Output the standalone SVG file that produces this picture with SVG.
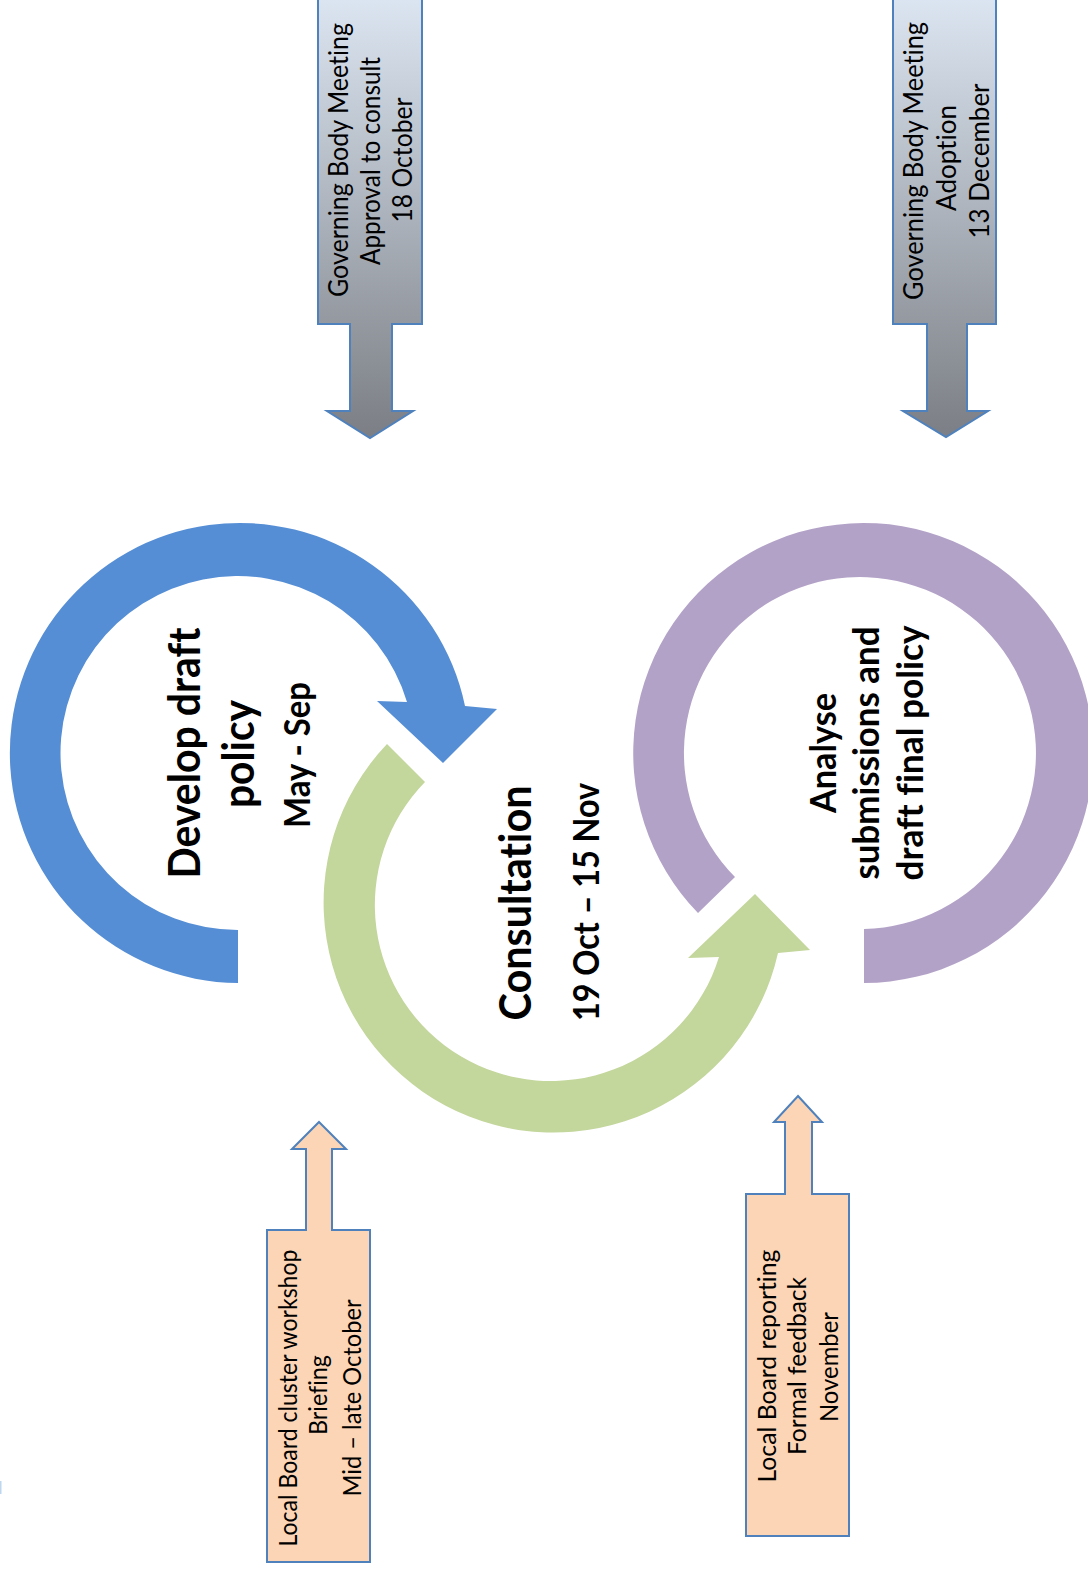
<svg xmlns="http://www.w3.org/2000/svg" width="1088" height="1574" viewBox="0 0 1088 1574">
  <defs>
    <linearGradient id="gbm" x1="0" y1="-5" x2="0" y2="438" gradientUnits="userSpaceOnUse">
      <stop offset="0" stop-color="#DCE6F2"/>
      <stop offset="1" stop-color="#7B7E84"/>
    </linearGradient>
    <style>
      .lbl { font-family: Lato, "Open Sans", "Liberation Sans", sans-serif; fill: #000; text-anchor: middle; font-variant-ligatures: none; }
      .small { font-size: 26px; }
      .peachtxt { font-size: 25px; }
      .title { font-size: 44px; font-weight: bold; }
      .date { font-size: 36px; font-weight: bold; }
      .title2 { font-size: 37px; font-weight: bold; }
      .grayarrow { fill: url(#gbm); stroke: #4F81BD; stroke-width: 2; }
      .peacharrow { fill: #FBD5B5; stroke: #4F81BD; stroke-width: 2; }
    </style>
  </defs>
  <rect width="1088" height="1574" fill="#FFFFFF"/>

  <g id="connectors"></g>

  <g id="develop-draft-policy">
    <path d="M 238 983 A 230 230 0 1 1 465 706 L 497 709 L 443 763 L 377 701 L 407 702 A 177 177 0 1 0 238 930 Z" fill="#558ED5"/>
    <text class="lbl title" transform="translate(200,753) rotate(-90)" textLength="251" lengthAdjust="spacingAndGlyphs">Develop draft</text>
    <text class="lbl title" transform="translate(254,754) rotate(-90)" textLength="108" lengthAdjust="spacingAndGlyphs">policy</text>
    <text class="lbl date" transform="translate(310,755) rotate(-90)" textLength="146" lengthAdjust="spacingAndGlyphs">May - Sep</text>
  </g>

  <g id="consultation">
    <path d="M 387 744 A 230 230 0 1 0 778 953 L 810 950 L 755 894 L 688 958 L 719 957 A 176 176 0 1 1 425 782 Z" fill="#C3D69B"/>
    <text class="lbl title" transform="translate(531,903) rotate(-90)" textLength="235" lengthAdjust="spacingAndGlyphs">Consultation</text>
    <text class="lbl date" transform="translate(599,902) rotate(-90)" textLength="238" lengthAdjust="spacingAndGlyphs">19 Oct – 15 Nov</text>
  </g>

  <g id="analyse-submissions">
    <path d="M 698 913 A 230 230 0 1 1 864 983 L 864 929 A 176 176 0 1 0 735 877 Z" fill="#B3A2C7"/>
    <text class="lbl title2" transform="translate(836,753) rotate(-90)" textLength="120" lengthAdjust="spacingAndGlyphs">Analyse</text>
    <text class="lbl title2" transform="translate(879,753) rotate(-90)" textLength="253" lengthAdjust="spacingAndGlyphs">submissions and</text>
    <text class="lbl title2" transform="translate(923,753) rotate(-90)" textLength="255" lengthAdjust="spacingAndGlyphs">draft final policy</text>
  </g>

  <g id="gbm-approval">
    <path class="grayarrow" d="M 318 -3 L 422 -3 L 422 324 L 392 324 L 392 411 L 413 411 L 370 438 L 327 411 L 350 411 L 350 324 L 318 324 Z"/>
    <text class="lbl small" transform="translate(348,160) rotate(-90)" textLength="274" lengthAdjust="spacingAndGlyphs">Governing Body Meeting</text>
    <text class="lbl small" transform="translate(380,161) rotate(-90)" textLength="208" lengthAdjust="spacingAndGlyphs">Approval to consult</text>
    <text class="lbl small" transform="translate(412,160) rotate(-90)" textLength="125" lengthAdjust="spacingAndGlyphs">18 October</text>
  </g>

  <g id="gbm-adoption">
    <path class="grayarrow" d="M 893 -3 L 996 -3 L 996 324 L 967 324 L 967 411 L 988 411 L 946 437 L 903 411 L 927 411 L 927 324 L 893 324 Z"/>
    <text class="lbl small" transform="translate(923,161) rotate(-90)" textLength="278" lengthAdjust="spacingAndGlyphs">Governing Body Meeting</text>
    <text class="lbl small" transform="translate(956,158) rotate(-90)">Adoption</text>
    <text class="lbl small" transform="translate(989,161) rotate(-90)">13 December</text>
  </g>

  <g id="local-board-workshop">
    <path class="peacharrow" d="M 319 1122 L 346 1149 L 332 1149 L 332 1230 L 370 1230 L 370 1562 L 267 1562 L 267 1230 L 306 1230 L 306 1149 L 292 1149 Z"/>
    <text class="lbl peachtxt" transform="translate(297,1398) rotate(-90)" textLength="297" lengthAdjust="spacingAndGlyphs">Local Board cluster workshop</text>
    <text class="lbl peachtxt" transform="translate(327,1395) rotate(-90)" textLength="80" lengthAdjust="spacingAndGlyphs">Briefing</text>
    <text class="lbl peachtxt" transform="translate(361,1398) rotate(-90)" textLength="197" lengthAdjust="spacingAndGlyphs">Mid – late October</text>
  </g>

  <g id="local-board-reporting">
    <path class="peacharrow" d="M 798 1096 L 822 1122 L 812 1122 L 812 1194 L 849 1194 L 849 1536 L 746 1536 L 746 1194 L 785 1194 L 785 1122 L 774 1122 Z"/>
    <text class="lbl peachtxt" transform="translate(776,1366) rotate(-90)" textLength="233" lengthAdjust="spacingAndGlyphs">Local Board reporting</text>
    <text class="lbl peachtxt" transform="translate(806,1366) rotate(-90)" textLength="178" lengthAdjust="spacingAndGlyphs">Formal feedback</text>
    <text class="lbl peachtxt" transform="translate(838,1367) rotate(-90)" textLength="110" lengthAdjust="spacingAndGlyphs">November</text>
  </g>

  <rect x="0" y="1481" width="1.5" height="13" fill="#BDD7EE"/>
</svg>
